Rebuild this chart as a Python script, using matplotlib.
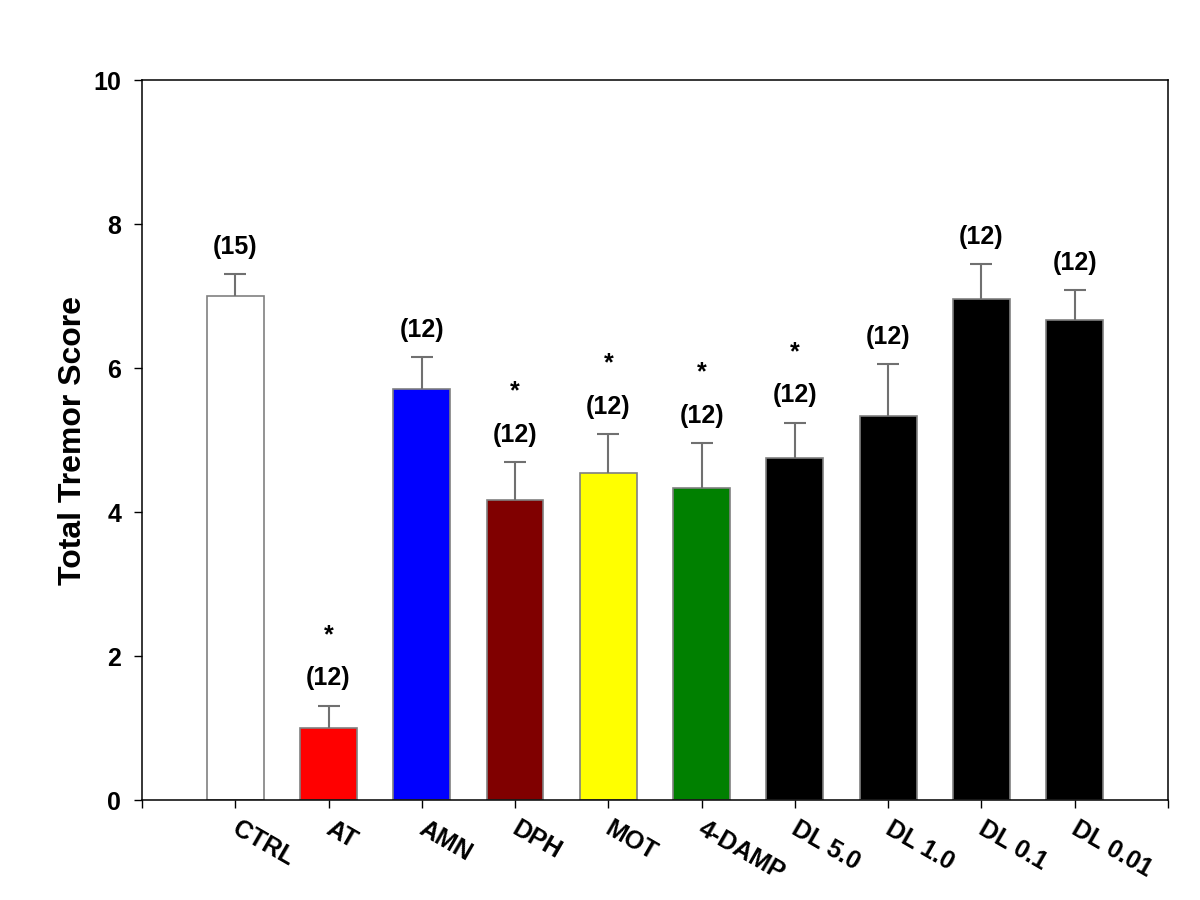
import matplotlib
matplotlib.use('Agg')
import matplotlib.pyplot as plt
import matplotlib.transforms as mtransforms
import numpy as np

groups = ['CTRL', 'AT', 'AMN', 'DPH', 'MOT', '4-DAMP', 'DL 5.0', 'DL 1.0', 'DL 0.1', 'DL 0.01']
means = [7.00, 1.00, 5.71, 4.17, 4.54, 4.33, 4.75, 5.33, 6.96, 6.67]
sems = [0.30, 0.31, 0.44, 0.52, 0.54, 0.63, 0.49, 0.72, 0.48, 0.41]
n_labels = ['(15)', '(12)', '(12)', '(12)', '(12)', '(12)', '(12)', '(12)', '(12)', '(12)']
significant = [False, True, False, True, True, True, True, False, False, False]
colors = ['#FFFFFF', '#FF0000', '#0000FF', '#800000', '#FFFF00', '#008000',
          '#000000', '#000000', '#000000', '#000000']

plt.rcParams['font.family'] = ['Liberation Sans', 'DejaVu Sans']
plt.rcParams['font.weight'] = 'bold'

fig = plt.figure(figsize=(12, 9), dpi=100)
ax = fig.add_axes([0.1183, 0.1111, 0.855, 0.80])

x = np.arange(len(groups))
ax.bar(x, means, width=0.61, color=colors, edgecolor='#808080', linewidth=1.2, zorder=2)

_, caps, bars = ax.errorbar(x, means, yerr=[np.zeros(len(sems)), sems], fmt='none',
                            ecolor='#707070', elinewidth=1.5, capsize=8, capthick=1.5, zorder=3)
caps[0].set_visible(False)
caps[1].set_color('black')

for i in range(len(groups)):
    top = means[i] + sems[i]
    ax.text(x[i], top + 0.38, n_labels[i], ha='center', va='center', fontsize=18, fontweight='bold')
    if significant[i]:
        ax.text(x[i], top + 0.98, '*', ha='center', va='center', fontsize=18, fontweight='bold')

ax.set_xlim(-1, 10)
ax.set_ylim(0, 10)
ax.set_yticks([0, 2, 4, 6, 8, 10])
ax.set_xticks(np.arange(-1, 11))
ax.set_xticklabels([''] + groups + [''], rotation=-30, ha='left', va='top',
                   rotation_mode='anchor', fontsize=18, fontweight='bold')
ax.tick_params(axis='x', direction='out', length=6, width=1, pad=6)
ax.tick_params(axis='y', direction='out', length=6, width=1, labelsize=18, pad=9)
for lab in ax.get_yticklabels():
    lab.set_fontweight('bold')
shift = mtransforms.ScaledTranslation(5 / 100, 0, fig.dpi_scale_trans)
for lab in ax.get_xticklabels():
    lab.set_transform(lab.get_transform() + shift)

for sp in ax.spines.values():
    sp.set_linewidth(1.1)
    sp.set_color('black')

ax.set_ylabel('Total Tremor Score', fontsize=23, fontweight='bold', labelpad=4)

fig.savefig('out.png', dpi=100)
